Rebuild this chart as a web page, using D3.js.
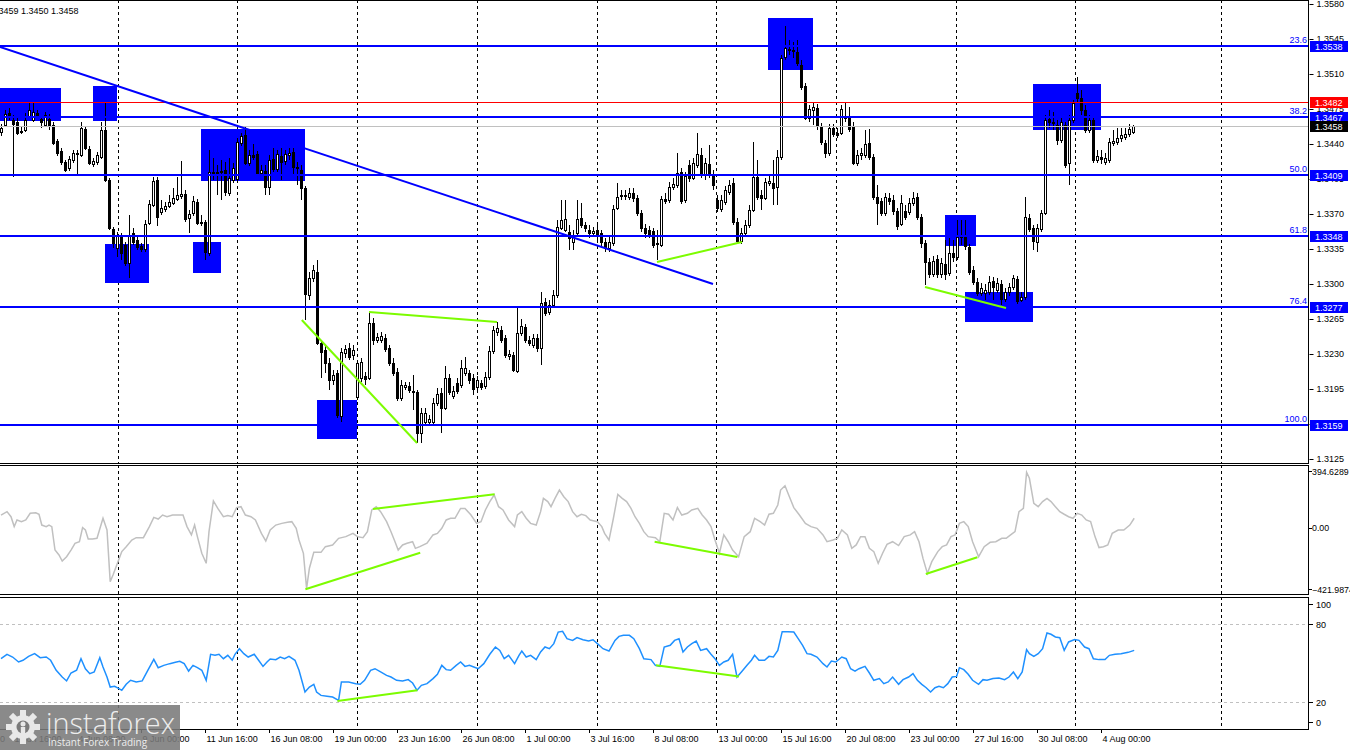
<!DOCTYPE html>
<html><head><meta charset="utf-8">
<script src="https://cdn.jsdelivr.net/npm/d3@7"></script>
<style>
html,body{margin:0;padding:0;background:#fff;overflow:hidden}
svg{display:block;font-family:"Liberation Sans",Arial,sans-serif}
</style></head><body>
<svg id="c" width="1350" height="750"></svg>
<script>
// ---------------- DATA ----------------
const open=[1.3452,1.3459,1.3471,1.3464,1.3462,1.3453,1.3454,1.3468,1.3464,1.3471,
1.3465,1.3459,1.3465,1.3459,1.3443,1.3433,1.3422,1.3416,1.3424,1.3430,
1.3429,1.3455,1.3435,1.3420,1.3422,1.3427,1.3454,1.3404,1.3355,1.3336,
1.3347,1.3339,1.3321,1.3351,1.3344,1.3338,1.3335,1.3361,1.3379,1.3404,
1.3372,1.3375,1.3378,1.3381,1.3385,1.3388,1.3390,1.3366,1.3371,1.3382,
1.3362,1.3362,1.3331,1.3412,1.3411,1.3412,1.3414,1.3391,1.3404,1.3405,
1.3441,1.3449,1.3421,1.3429,1.3430,1.3411,1.3413,1.3397,1.3425,1.3415,
1.3428,1.3423,1.3429,1.3432,1.3417,1.3414,1.3396,1.3289,1.3306,1.3312,
1.3241,1.3234,1.3221,1.3204,1.3211,1.3168,1.3231,1.3236,1.3229,1.3187,
1.3206,1.3208,1.3206,1.3261,1.3244,1.3244,1.3246,1.3236,1.3221,1.3212,
1.3186,1.3197,1.3198,1.3193,1.3192,1.3151,1.3162,1.3162,1.3162,1.3181,
1.3191,1.3176,1.3206,1.3188,1.3201,1.3199,1.3211,1.3211,1.3206,1.3197,
1.3201,1.3198,1.3207,1.3233,1.3252,1.3254,1.3246,1.3228,1.3229,1.3213,
1.3251,1.3257,1.3244,1.3239,1.3246,1.3236,1.3282,1.3272,1.3279,1.3289,
1.3356,1.3354,1.3352,1.3342,1.3351,1.3366,1.3359,1.3354,1.3351,1.3354,
1.3351,1.3342,1.3336,1.3341,1.3376,1.3388,1.3389,1.3387,1.3391,1.3386,
1.3371,1.3356,1.3354,1.3353,1.3341,1.3339,1.3385,1.3384,1.3397,1.3399,
1.3412,1.3384,1.3419,1.3406,1.3419,1.3429,1.3409,1.3420,1.3409,1.3384,
1.3375,1.3382,1.3392,1.3401,1.3362,1.3343,1.3351,1.3359,1.3374,1.3407,
1.3389,1.3386,1.3401,1.3401,1.3397,1.3427,1.3527,1.3535,1.3534,1.3532,
1.3519,1.3498,1.3466,1.3474,1.3476,1.3458,1.3441,1.3431,1.3456,1.3451,
1.3451,1.3466,1.3468,1.3458,1.3421,1.3429,1.3429,1.3441,1.3427,1.3387,
1.3383,1.3371,1.3386,1.3384,1.3373,1.3360,1.3373,1.3372,1.3381,1.3387,
1.3367,1.3341,1.3322,1.3310,1.3325,1.3310,1.3320,1.3311,1.3331,1.3327,
1.3347,1.3349,1.3337,1.3314,1.3302,1.3291,1.3291,1.3292,1.3303,1.3294,
1.3300,1.3285,1.3292,1.3297,1.3305,1.3284,1.3287,1.3366,1.3356,1.3342,
1.3355,1.3371,1.3465,1.3462,1.3459,1.3444,1.3459,1.3421,1.3464,1.3491,
1.3486,1.3474,1.3454,1.3464,1.3424,1.3427,1.3422,1.3424,1.3441,1.3442,
1.3446,1.3447,1.3450,1.3452];
const high=[1.3460,1.3474,1.3476,1.3469,1.3466,1.3457,1.3471,1.3481,1.3481,1.3474,
1.3468,1.3472,1.3470,1.3462,1.3445,1.3436,1.3424,1.3428,1.3434,1.3434,
1.3462,1.3457,1.3438,1.3426,1.3432,1.3462,1.3482,1.3406,1.3357,1.3352,
1.3351,1.3342,1.3369,1.3356,1.3347,1.3341,1.3364,1.3384,1.3407,1.3407,
1.3384,1.3382,1.3389,1.3396,1.3407,1.3423,1.3394,1.3374,1.3388,1.3385,
1.3369,1.3364,1.3434,1.3426,1.3419,1.3424,1.3422,1.3426,1.3421,1.3446,
1.3451,1.3458,1.3434,1.3440,1.3433,1.3419,1.3419,1.3429,1.3436,1.3434,
1.3436,1.3434,1.3436,1.3436,1.3422,1.3419,1.3398,1.3312,1.3319,1.3324,
1.3244,1.3239,1.3226,1.3214,1.3214,1.3236,1.3239,1.3241,1.3239,1.3224,
1.3226,1.3212,1.3271,1.3266,1.3251,1.3252,1.3250,1.3239,1.3226,1.3216,
1.3204,1.3202,1.3202,1.3209,1.3194,1.3176,1.3176,1.3169,1.3186,1.3196,
1.3196,1.3218,1.3210,1.3198,1.3206,1.3224,1.3227,1.3214,1.3210,1.3208,
1.3204,1.3212,1.3238,1.3258,1.3262,1.3258,1.3249,1.3234,1.3232,1.3276,
1.3265,1.3260,1.3248,1.3250,1.3250,1.3292,1.3286,1.3284,1.3294,1.3364,
1.3384,1.3384,1.3359,1.3354,1.3384,1.3381,1.3362,1.3359,1.3357,1.3359,
1.3354,1.3346,1.3348,1.3379,1.3401,1.3394,1.3394,1.3396,1.3396,1.3389,
1.3374,1.3360,1.3358,1.3356,1.3354,1.3388,1.3391,1.3402,1.3406,1.3431,
1.3416,1.3412,1.3424,1.3426,1.3451,1.3436,1.3426,1.3439,1.3414,1.3389,
1.3389,1.3398,1.3404,1.3406,1.3366,1.3356,1.3364,1.3379,1.3442,1.3424,
1.3394,1.3406,1.3408,1.3424,1.3434,1.3529,1.3558,1.3544,1.3542,1.3544,
1.3524,1.3501,1.3479,1.3481,1.3480,1.3461,1.3444,1.3460,1.3460,1.3456,
1.3479,1.3481,1.3477,1.3462,1.3434,1.3436,1.3454,1.3455,1.3430,1.3399,
1.3386,1.3391,1.3391,1.3389,1.3376,1.3389,1.3379,1.3386,1.3392,1.3391,
1.3370,1.3344,1.3326,1.3328,1.3329,1.3326,1.3344,1.3346,1.3344,1.3364,
1.3364,1.3364,1.3340,1.3318,1.3306,1.3301,1.3300,1.3308,1.3307,1.3306,
1.3304,1.3296,1.3301,1.3309,1.3308,1.3292,1.3387,1.3370,1.3359,1.3360,
1.3374,1.3469,1.3474,1.3472,1.3464,1.3466,1.3462,1.3469,1.3484,1.3507,
1.3494,1.3479,1.3469,1.3468,1.3434,1.3434,1.3431,1.3446,1.3454,1.3456,
1.3456,1.3456,1.3460,1.3459];
const low=[1.3448,1.3457,1.3464,1.3407,1.3449,1.3450,1.3452,1.3466,1.3462,1.3466,
1.3456,1.3457,1.3454,1.3439,1.3428,1.3419,1.3412,1.3413,1.3421,1.3410,
1.3427,1.3434,1.3419,1.3417,1.3419,1.3425,1.3402,1.3354,1.3336,1.3327,
1.3324,1.3318,1.3306,1.3339,1.3334,1.3332,1.3332,1.3359,1.3377,1.3358,
1.3369,1.3372,1.3376,1.3379,1.3383,1.3385,1.3362,1.3351,1.3368,1.3359,
1.3358,1.3324,1.3328,1.3404,1.3389,1.3384,1.3388,1.3388,1.3401,1.3402,
1.3438,1.3419,1.3418,1.3424,1.3409,1.3409,1.3389,1.3389,1.3412,1.3412,
1.3404,1.3419,1.3424,1.3409,1.3399,1.3384,1.3264,1.3284,1.3302,1.3239,
1.3206,1.3211,1.3194,1.3199,1.3166,1.3162,1.3226,1.3224,1.3224,1.3184,
1.3202,1.3199,1.3204,1.3239,1.3241,1.3241,1.3232,1.3218,1.3208,1.3183,
1.3183,1.3194,1.3191,1.3174,1.3141,1.3141,1.3159,1.3159,1.3159,1.3178,
1.3151,1.3174,1.3189,1.3185,1.3190,1.3196,1.3208,1.3200,1.3189,1.3194,
1.3194,1.3195,1.3204,1.3230,1.3248,1.3241,1.3226,1.3224,1.3212,1.3211,
1.3248,1.3241,1.3238,1.3236,1.3232,1.3219,1.3268,1.3269,1.3276,1.3286,
1.3354,1.3352,1.3334,1.3334,1.3348,1.3356,1.3352,1.3346,1.3348,1.3344,
1.3338,1.3332,1.3332,1.3338,1.3374,1.3384,1.3384,1.3384,1.3382,1.3368,
1.3352,1.3346,1.3346,1.3336,1.3324,1.3337,1.3380,1.3381,1.3394,1.3396,
1.3380,1.3381,1.3402,1.3404,1.3416,1.3406,1.3404,1.3406,1.3394,1.3372,
1.3372,1.3379,1.3389,1.3359,1.3340,1.3340,1.3348,1.3356,1.3372,1.3384,
1.3374,1.3384,1.3398,1.3379,1.3379,1.3424,1.3524,1.3529,1.3526,1.3518,
1.3494,1.3464,1.3462,1.3459,1.3454,1.3439,1.3426,1.3428,1.3447,1.3446,
1.3449,1.3462,1.3452,1.3419,1.3418,1.3424,1.3426,1.3424,1.3384,1.3359,
1.3368,1.3368,1.3379,1.3369,1.3354,1.3358,1.3364,1.3369,1.3378,1.3364,
1.3336,1.3299,1.3306,1.3307,1.3306,1.3306,1.3304,1.3308,1.3322,1.3324,
1.3339,1.3334,1.3309,1.3299,1.3288,1.3288,1.3284,1.3289,1.3284,1.3291,
1.3279,1.3282,1.3288,1.3294,1.3280,1.3282,1.3284,1.3352,1.3334,1.3332,
1.3352,1.3369,1.3456,1.3454,1.3439,1.3441,1.3416,1.3399,1.3461,1.3482,
1.3469,1.3451,1.3451,1.3421,1.3421,1.3420,1.3419,1.3421,1.3438,1.3439,
1.3442,1.3444,1.3447,1.3450];
const close=[1.3456,1.3470,1.3468,1.3460,1.3451,1.3452,1.3464,1.3474,1.3472,1.3469,
1.3462,1.3469,1.3459,1.3441,1.3431,1.3422,1.3414,1.3425,1.3431,1.3431,
1.3456,1.3436,1.3421,1.3423,1.3429,1.3454,1.3404,1.3356,1.3341,1.3349,
1.3331,1.3321,1.3349,1.3342,1.3337,1.3335,1.3360,1.3380,1.3403,1.3367,
1.3376,1.3378,1.3382,1.3386,1.3389,1.3390,1.3365,1.3370,1.3383,1.3361,
1.3361,1.3332,1.3412,1.3411,1.3412,1.3413,1.3392,1.3406,1.3416,1.3442,
1.3448,1.3421,1.3429,1.3427,1.3411,1.3414,1.3397,1.3424,1.3415,1.3430,
1.3422,1.3430,1.3431,1.3417,1.3416,1.3396,1.3290,1.3306,1.3314,1.3241,
1.3232,1.3221,1.3204,1.3209,1.3169,1.3232,1.3235,1.3227,1.3234,1.3221,
1.3222,1.3205,1.3261,1.3244,1.3247,1.3248,1.3235,1.3221,1.3211,1.3186,
1.3199,1.3199,1.3194,1.3192,1.3151,1.3171,1.3171,1.3165,1.3181,1.3190,
1.3176,1.3206,1.3192,1.3193,1.3193,1.3216,1.3216,1.3204,1.3195,1.3204,
1.3197,1.3207,1.3233,1.3254,1.3256,1.3244,1.3229,1.3230,1.3214,1.3251,
1.3258,1.3244,1.3241,1.3246,1.3236,1.3281,1.3271,1.3279,1.3289,1.3357,
1.3364,1.3365,1.3346,1.3349,1.3365,1.3359,1.3356,1.3351,1.3353,1.3349,
1.3342,1.3336,1.3342,1.3375,1.3387,1.3389,1.3388,1.3391,1.3386,1.3371,
1.3356,1.3351,1.3350,1.3339,1.3340,1.3385,1.3383,1.3397,1.3400,1.3411,
1.3383,1.3408,1.3406,1.3421,1.3430,1.3409,1.3421,1.3409,1.3399,1.3376,
1.3384,1.3394,1.3399,1.3362,1.3343,1.3351,1.3359,1.3374,1.3407,1.3387,
1.3386,1.3402,1.3403,1.3396,1.3427,1.3526,1.3536,1.3534,1.3533,1.3521,
1.3497,1.3466,1.3475,1.3477,1.3458,1.3442,1.3431,1.3456,1.3450,1.3449,
1.3475,1.3468,1.3455,1.3421,1.3429,1.3431,1.3440,1.3427,1.3387,1.3381,
1.3371,1.3387,1.3383,1.3373,1.3358,1.3381,1.3367,1.3381,1.3386,1.3367,
1.3341,1.3322,1.3310,1.3323,1.3310,1.3321,1.3310,1.3331,1.3327,1.3347,
1.3348,1.3338,1.3312,1.3302,1.3291,1.3296,1.3294,1.3302,1.3297,1.3301,
1.3285,1.3292,1.3297,1.3306,1.3283,1.3287,1.3367,1.3355,1.3343,1.3356,
1.3371,1.3464,1.3462,1.3461,1.3444,1.3462,1.3419,1.3464,1.3481,1.3486,
1.3474,1.3454,1.3464,1.3424,1.3428,1.3425,1.3426,1.3442,1.3443,1.3446,
1.3449,1.3450,1.3455,1.3458];

// CCI (grey) : bar position and value
const cciBar=[0,1.5,2.5,3.3,4,5.1,6.2,7.3,8.7,9.5,10.2,11.3,12,12.7,13.5,14.5,15.3,16.4,17.5,18.5,
19.6,20.4,21.1,21.8,22.9,24,25.5,26.5,27.3,28,29.1,30.2,31.3,32.7,33.8,35.6,37.1,38.2,39.3,40.4,
41.5,42.9,44.4,45.5,46.5,47.6,48.4,49.1,50.2,51.3,52,53.1,54.2,55.6,56.7,57.8,58.9,60,61.1,62.5,
63.6,65.1,66.2,67.3,68.7,70.2,71.6,72.7,73.8,74.5,75.6,76.4,77.1,78.2,80,81.1,82.9,84.4,86.2,88,
89.1,90.5,91.6,92.7,93.8,94.9,96.4,97.5,98.5,99.3,100.4,101.5,102.9,103.6,104.7,106.5,108,109.1,110.2,111.3,
112.4,113.5,114.9,116,117.5,118.9,120,121.1,122.2,123.3,124.4,125.5,126.9,128.4,129.1,130.2,131.3,132.4,133.8,134.9,
135.6,136.7,137.5,138.5,139.6,140.7,141.8,142.9,144,145.1,146.2,147.3,149.1,150.2,150.9,152,153.1,154.2,155.3,156.4,
157.5,158.5,159.6,160.7,161.8,163.6,164.7,165.8,166.9,168,169.1,170.2,171.6,172.7,174.2,175.3,176.4,177.5,178.5,179.6,
180.7,181.8,182.9,184.4,185.1,185.8,187.3,188.4,189.8,190.9,192,193.1,194.2,194.9,196,197.1,198.2,199.6,201.1,202.5,
204,205.5,206.5,208,209.1,210.2,211.6,212.7,213.8,214.9,216,217.1,218.2,219.3,220.4,221.5,222.9,224.4,225.8,227.3,
228.4,229.5,230.5,231.6,232.7,234.2,235.3,236.4,237.5,238.5,239.6,240.7,241.8,242.9,244.4,245.8,247.3,248.7,250.2,251.3,
252.4,253.5,254.5,255.6,256.4,257.1,258.2,259.3,260.4,261.5,262.5,263.6,264.7,265.8,266.9,268,269.1,270.2,271.3,272.4,
273.5,274.5,275.6,276.7,277.8,279.3,280.7,282.2,283.3];
const cciVal=[84,106,73,9,52,41,52,95,99,89,19,9,19,9,-143,-175,-214,-186,-143,-99,
-89,2,-13,-71,-71,-67,63,-13,-348,-305,-229,-153,-121,-78,-63,-63,9,69,58,84,
73,84,84,84,9,-45,19,-56,-164,-229,-24,175,127,73,80,73,132,138,84,73,
52,-35,-84,-13,19,30,37,41,-2,-78,-164,-391,-261,-158,-158,-121,-110,-67,-56,-35,
-56,-63,-24,117,138,106,41,-24,-89,-143,-110,-99,-89,-132,-121,-99,-45,-35,-2,52,
63,63,127,127,84,30,41,117,171,214,138,117,52,9,84,106,63,30,19,106,
192,171,138,192,246,203,171,106,73,89,80,52,41,9,-35,-78,63,218,192,171,
127,73,30,-24,-56,-63,-89,95,89,52,132,84,95,117,127,84,52,9,-78,-164,
-45,-89,-143,-186,-121,-56,-24,63,41,19,89,95,149,246,274,203,132,84,30,9,
-2,-45,-89,-78,-67,-13,-45,-132,-110,-56,-56,-132,-153,-229,-164,-106,-89,-114,-56,-45,
-24,-89,-197,-294,-218,-153,-121,-110,-56,-45,30,41,9,-89,-186,-121,-93,-89,-67,-67,
-45,-24,106,127,361,322,160,138,171,192,171,138,106,89,73,63,95,84,52,41,
-56,-127,-121,-110,-35,-13,-13,19,63];

// RSI (blue)
const rsiBar=[0,1.5,2.9,4.4,5.5,6.9,8.4,9.8,11.3,12.4,13.8,15.3,16.4,17.5,18.9,20,21.1,22.2,23.3,24.7,
25.5,26.5,27.3,28.4,29.5,30.2,31.3,32.4,33.8,35.3,36.7,38.2,39.3,40.7,42.2,43.6,44.7,45.8,46.9,48,
49.1,50.2,51.3,52.4,53.5,54.5,55.6,56.7,57.8,58.5,59.6,60.7,61.8,63.3,64.4,65.5,66.5,67.3,68.7,69.8,
70.9,72,73.5,74.5,76,77.1,78.2,78.9,80,81.5,82.9,84.4,85.1,86.9,88.7,89.8,90.9,92.4,93.5,94.9,
96.4,97.5,98.9,100.4,101.8,102.9,104,105.1,106.5,108,109.1,110.2,111.3,112.4,113.8,114.9,116,117.1,118.2,119.3,
120.7,122.2,123.6,124.7,125.8,126.9,128.4,129.5,130.2,131.3,132.4,133.8,134.9,136,137.1,138.2,139.3,140.4,141.5,142.9,
144,145.5,146.9,148,149.1,150.5,152,153.5,154.5,155.6,157.1,158.2,159.6,160.7,162.5,163.6,164.7,165.8,167.3,168.4,
169.5,170.5,171.6,172.7,173.8,174.9,176.4,177.5,178.5,179.6,180.7,181.8,182.9,184,185.1,186.5,187.6,188.4,189.5,190.9,
192,193.1,194.2,195.3,196.7,198.2,199.3,200.4,201.5,202.5,204,205.5,206.5,207.6,208.7,210.2,211.3,212.4,213.5,214.5,
216,217.1,218.2,219.6,220.7,221.8,222.9,224.4,225.5,226.9,228,229.1,230.2,231.3,232.4,233.5,234.5,235.6,236.7,237.8,
238.9,239.6,240.7,241.8,242.9,244.4,245.5,246.5,248,249.5,250.9,252,253.1,254.2,255.3,256.4,257.1,258.2,259.3,260.4,
261.5,262.5,263.6,264.7,265.8,266.9,268.4,269.5,270.9,272,273.1,274.5,276,277.1,278.5,280,281.8,283.3];
const rsiVal=[53.3,56.7,54.6,50.8,52.1,55.1,57.2,54.1,54.6,52.1,44.4,39.2,36.2,42.3,44.4,53.3,45.6,41.8,43.1,54.1,
46.9,39.2,31.5,32.1,30.3,29.0,33.6,36.7,35.4,36.2,44.4,52.8,46.4,48.2,49.5,50.5,51.3,49.5,43.8,48.2,
46.4,44.4,36.7,56.7,55.9,56.7,53.3,55.9,52.1,56.7,61.0,57.2,54.6,56.7,52.1,47.4,50.8,53.1,52.6,54.6,
53.3,55.1,52.1,44.4,27.7,31.5,33.6,27.7,25.1,24.4,23.8,21.3,35.4,35.4,34.1,33.6,36.7,44.4,45.6,43.1,
40.5,39.2,36.7,36.2,37.2,34.6,29.0,32.8,34.1,38.0,41.3,48.2,44.9,44.4,48.2,50.8,47.4,48.2,46.9,45.6,
49.5,56.7,62.3,59.7,53.3,55.9,49.5,55.9,59.2,54.6,55.9,52.6,58.5,62.3,61.0,64.9,73.8,74.4,68.7,67.4,
69.5,67.9,66.9,67.9,64.9,61.0,59.2,67.4,70.5,71.3,71.3,68.7,61.0,53.3,52.6,48.2,47.4,62.3,63.6,67.4,
68.7,58.5,62.3,64.9,66.9,59.7,61.0,56.7,53.3,48.2,50.8,52.1,56.7,39.2,43.1,48.2,52.1,55.9,52.1,52.1,
55.1,54.6,59.7,74.1,74.1,73.8,68.7,63.6,57.2,56.7,54.6,49.5,46.9,51.5,50.8,54.6,53.3,45.6,43.8,45.6,
47.4,42.3,36.7,38.0,34.1,35.4,39.2,33.6,37.2,39.2,41.8,36.7,33.6,31.0,27.7,31.0,32.1,31.0,34.1,39.2,
39.7,46.4,44.9,41.3,36.7,33.6,37.2,36.7,38.0,38.5,37.2,39.2,43.1,38.0,43.1,60.3,57.2,55.1,57.2,61.0,
73.1,72.1,70.0,69.5,59.7,66.2,68.0,67.4,62.3,61.0,53.3,52.6,52.6,55.9,56.7,57.2,58.2,59.7];

// Fibonacci levels
const fibValues=[1.3538,1.3467,1.3409,1.3348,1.3277,1.3159];
const fibLabels=["23.6","38.2","50.0","61.8","76.4","100.0"];
const askPrice=1.3482, bidPrice=1.3458;
const headerText="1.3459 1.3450 1.3458";

// Right price axis ticks
const priceTicks=[1.3580,1.3545,1.3510,1.3475,1.3440,1.3405,1.3370,1.3335,1.3300,1.3265,1.3230,1.3195,1.3160,1.3125];
// Price tags on the axis
const tagValues=[1.3538,1.3482,1.3467,1.3458,1.3409,1.3348,1.3277,1.3159];
const tagKinds=["level","ask","level","bid","level","level","level","level"];

// Time axis
const timeLabels=["28 May 00:00","1 Jun 16:00","4 Jun 08:00","9 Jun 00:00","11 Jun 16:00","16 Jun 08:00","19 Jun 00:00","23 Jun 16:00","26 Jun 08:00","1 Jul 00:00","3 Jul 16:00","8 Jul 08:00","13 Jul 00:00","15 Jul 16:00","20 Jul 08:00","23 Jul 00:00","27 Jul 16:00","30 Jul 08:00","4 Aug 00:00"];
const timeBars=[-13,3,19,35,51,67,83,99,115,131,147,163,179,195,211,227,243,259,275];
const gridBars=[29.25,59,89,119,149,178.75,208.75,238.75,268.5,305];

// Rectangles (bar from, bar to, price top, price bottom)
const zoneBar0=[-1,23,50,26,48,79,191.75,258,236,241];
const zoneBar1=[15,29,76,37,55,89,203,275,243.75,258];
const zoneTop=[1.3496,1.3498,1.3455,1.3340,1.3342,1.3184,1.3566,1.3500,1.3369,1.3292];
const zoneBot=[1.3463,1.3463,1.3403,1.3301,1.3311,1.3145,1.3514,1.3454,1.3338,1.3262];

// Trend line (bar, price)
const trendBar=[-0.25,178], trendPrice=[1.3537,1.3300];

// Green divergence lines
const gMainBar0=[75.2,92,164,231], gMainBar1=[104,124,185.25,251.25];
const gMainP0=[1.3264,1.3272,1.3322,1.3297], gMainP1=[1.3141,1.3262,1.3342,1.3276];
const gCciBar0=[93,76.1,163.4,231.2], gCciBar1=[123.4,104.8,184.1,244.1];
const gCciV0=[123,-397,-89,-298], gCciV1=[218,-160,-188,-190];
const gRsiBar0=[84.1,163.75], gRsiBar1=[104.1,184.5];
const gRsiV0=[20.8,48.2], gRsiV1=[29.0,39.7];

// CCI/RSI axis
const cciMax=394.6289, cciMin=-421.9874;
const rsiTicks=[100,80,20,0];

// ---------------- DRAW ----------------
const svg=d3.select("#c");
const W=1350, AX=1309;
const P={mainTop:0, mainBot:463, cciTop:465, cciBot:594, rsiTop:597, rsiBot:729};

const x=d3.scaleLinear().domain([0,327]).range([1,AX]);
const y=d3.scaleLinear().domain([1.3584,1.3121]).range([0,463]);
const yC=d3.scaleLinear().domain([cciMax,cciMin]).range([467.1,593.1]);
const yR=d3.scaleLinear().domain([100,0]).range([598,728]);

const defs=svg.append("defs");
defs.append("clipPath").attr("id","cm").append("rect").attr("x",0).attr("y",P.mainTop).attr("width",AX).attr("height",P.mainBot-P.mainTop);
defs.append("clipPath").attr("id","cc").append("rect").attr("x",0).attr("y",P.cciTop).attr("width",AX).attr("height",P.cciBot-P.cciTop);
defs.append("clipPath").attr("id","cr").append("rect").attr("x",0).attr("y",P.rsiTop).attr("width",AX).attr("height",P.rsiBot-P.rsiTop);

svg.append("rect").attr("width",W).attr("height",750).attr("fill","#fff");

// grid verticals
const grid=svg.append("g").attr("stroke","#000").attr("stroke-width",1).attr("stroke-dasharray","3,3").attr("shape-rendering","crispEdges");
[[P.mainTop,P.mainBot],[P.cciTop,P.cciBot],[P.rsiTop,P.rsiBot]].forEach(([a,b])=>{
  grid.selectAll(null).data(gridBars).enter().append("line")
    .attr("x1",d=>Math.round(x(d))+0.5).attr("x2",d=>Math.round(x(d))+0.5).attr("y1",a).attr("y2",b);
});
// RSI dotted levels
svg.append("g").selectAll("line").data([80,20]).enter().append("line")
  .attr("x1",0).attr("x2",AX).attr("y1",d=>Math.round(yR(d))+0.5).attr("y2",d=>Math.round(yR(d))+0.5)
  .attr("stroke","#c0c0c0").attr("stroke-dasharray","3,3").attr("shape-rendering","crispEdges");

// main panel
const gm=svg.append("g").attr("clip-path","url(#cm)");
gm.selectAll("rect.z").data(d3.range(zoneBar0.length)).enter().append("rect").attr("class","z")
  .attr("x",i=>x(zoneBar0[i])).attr("width",i=>x(zoneBar1[i])-x(zoneBar0[i]))
  .attr("y",i=>y(zoneTop[i])).attr("height",i=>y(zoneBot[i])-y(zoneTop[i]))
  .attr("fill","#0000ff");

// candles
const idx=d3.range(open.length);
const cg=gm.append("g").attr("shape-rendering","crispEdges");
cg.selectAll("line").data(idx).enter().append("line")
  .attr("x1",i=>Math.round(x(i))+0.5).attr("x2",i=>Math.round(x(i))+0.5)
  .attr("y1",i=>y(high[i])).attr("y2",i=>y(low[i])).attr("stroke","#000");
cg.selectAll("rect").data(idx).enter().append("rect")
  .attr("x",i=>Math.round(x(i))-0.5).attr("width",2)
  .attr("y",i=>Math.round(y(Math.max(open[i],close[i])))+0.5)
  .attr("height",i=>Math.max(1,Math.round(Math.abs(y(open[i])-y(close[i])))))
  .attr("fill",i=>close[i]>=open[i]?"#fff":"#000").attr("stroke","#000");

// ask / bid lines
gm.append("line").attr("x1",0).attr("x2",AX).attr("y1",Math.round(y(askPrice))+0.5).attr("y2",Math.round(y(askPrice))+0.5)
  .attr("stroke","#ff0000").attr("shape-rendering","crispEdges");
gm.append("line").attr("x1",0).attr("x2",AX).attr("y1",Math.round(y(bidPrice))+0.5).attr("y2",Math.round(y(bidPrice))+0.5)
  .attr("stroke","#c0c0c0").attr("shape-rendering","crispEdges");
// fib lines
gm.selectAll("line.f").data(fibValues).enter().append("line").attr("class","f")
  .attr("x1",0).attr("x2",AX).attr("y1",d=>Math.round(y(d))).attr("y2",d=>Math.round(y(d)))
  .attr("stroke","#0000ff").attr("stroke-width",2).attr("shape-rendering","crispEdges");
// trend line
gm.append("line").attr("x1",x(trendBar[0])).attr("x2",x(trendBar[1])).attr("y1",y(trendPrice[0])).attr("y2",y(trendPrice[1]))
  .attr("stroke","#0000ff").attr("stroke-width",2);
// green lines main
gm.selectAll("line.g").data(d3.range(gMainBar0.length)).enter().append("line").attr("class","g")
  .attr("x1",i=>x(gMainBar0[i])).attr("x2",i=>x(gMainBar1[i])).attr("y1",i=>y(gMainP0[i])).attr("y2",i=>y(gMainP1[i]))
  .attr("stroke","#7cfc00").attr("stroke-width",2);

// CCI
const gc=svg.append("g").attr("clip-path","url(#cc)");
gc.append("path").datum(d3.range(cciBar.length))
  .attr("d",d3.line().x(i=>x(cciBar[i])).y(i=>yC(cciVal[i])))
  .attr("fill","none").attr("stroke","#c0c0c0").attr("stroke-width",1.5);
gc.selectAll("line.g").data(d3.range(gCciBar0.length)).enter().append("line").attr("class","g")
  .attr("x1",i=>x(gCciBar0[i])).attr("x2",i=>x(gCciBar1[i])).attr("y1",i=>yC(gCciV0[i])).attr("y2",i=>yC(gCciV1[i]))
  .attr("stroke","#7cfc00").attr("stroke-width",2);

// RSI
const gr=svg.append("g").attr("clip-path","url(#cr)");
gr.append("path").datum(d3.range(rsiBar.length))
  .attr("d",d3.line().x(i=>x(rsiBar[i])).y(i=>yR(rsiVal[i])))
  .attr("fill","none").attr("stroke","#1e90ff").attr("stroke-width",1.5);
gr.selectAll("line.g").data(d3.range(gRsiBar0.length)).enter().append("line").attr("class","g")
  .attr("x1",i=>x(gRsiBar0[i])).attr("x2",i=>x(gRsiBar1[i])).attr("y1",i=>yR(gRsiV0[i])).attr("y2",i=>yR(gRsiV1[i]))
  .attr("stroke","#7cfc00").attr("stroke-width",2);

// panel borders
const bg=svg.append("g").attr("fill","none").attr("stroke","#000").attr("shape-rendering","crispEdges");
[[P.mainTop,P.mainBot],[P.cciTop,P.cciBot],[P.rsiTop,P.rsiBot]].forEach(([a,b])=>{
  bg.append("rect").attr("x",-1.5).attr("y",a+0.5).attr("width",AX+1).attr("height",b-a);
});

// price axis
const FS="9px";
const axG=svg.append("g").attr("transform",`translate(${AX+0.5},0)`)
  .call(d3.axisRight(y).tickValues(priceTicks).tickFormat(d3.format(".4f")).tickSize(4).tickPadding(3));
axG.select(".domain").remove();
axG.selectAll("text").attr("font-size",FS).attr("font-family","Liberation Sans, Arial, sans-serif").attr("fill","#000");
axG.selectAll("line").attr("stroke","#000");

// fib labels
svg.append("g").selectAll("text").data(fibValues).enter().append("text")
  .attr("x",AX-2).attr("y",d=>y(d)-3).attr("text-anchor","end")
  .attr("font-size",FS).attr("fill","#0000ff").text((d,i)=>fibLabels[i]);

// tags
const tagFill={level:"#0000ff",ask:"#ff0000",bid:"#000000"};
const tg=svg.append("g");
tagValues.forEach((v,i)=>{
  const cy=Math.round(y(v));
  tg.append("rect").attr("x",AX+1).attr("y",cy-5).attr("width",38).attr("height",11).attr("fill",tagFill[tagKinds[i]]);
  tg.append("text").attr("x",AX+6).attr("y",cy+4).attr("font-size",FS).attr("fill","#fff").text(d3.format(".4f")(v));
});

// CCI axis labels
const cciLab=[cciMax,0,cciMin];
const cciFmt=[d3.format(".4f"),d3.format(".2f"),d3.format(".4f")];
cciLab.forEach((v,i)=>{
  const cy=Math.max(P.cciTop+6,Math.min(P.cciBot-5,yC(v)));
  svg.append("line").attr("x1",AX).attr("x2",AX+3).attr("y1",Math.round(cy)+0.5).attr("y2",Math.round(cy)+0.5).attr("stroke","#000");
  svg.append("text").attr("x",AX+3).attr("y",cy+3.5).attr("font-size","8.8px").text(cciFmt[i](v));
});
// RSI axis labels
rsiTicks.forEach(v=>{
  const cy=Math.max(P.rsiTop+7,Math.min(P.rsiBot-7,yR(v)));
  svg.append("line").attr("x1",AX).attr("x2",AX+4).attr("y1",Math.round(cy)+0.5).attr("y2",Math.round(cy)+0.5).attr("stroke","#000");
  svg.append("text").attr("x",AX+7).attr("y",cy+3.5).attr("font-size",FS).text(v);
});

// time axis
const ta=svg.append("g");
timeBars.forEach((b,i)=>{
  const xx=Math.round(x(b))+0.5;
  ta.append("line").attr("x1",xx).attr("x2",xx).attr("y1",P.rsiBot).attr("y2",P.rsiBot+4).attr("stroke","#000");
  ta.append("text").attr("x",xx+1).attr("y",742).attr("font-size",FS).text(timeLabels[i]);
});

// header
svg.append("text").attr("x",-9).attr("y",14).attr("font-size",FS).text(headerText);

// logo
const lg=svg.append("g");
lg.append("rect").attr("x",0).attr("y",705).attr("width",180).attr("height",45).attr("fill","#7a7a7a").attr("opacity",0.88);
const gear=lg.append("g").attr("transform","translate(23,727)").attr("fill","#e8e8e8");
d3.range(8).forEach(k=>{
  gear.append("rect").attr("x",-3).attr("y",-17).attr("width",6).attr("height",8).attr("transform",`rotate(${k*45})`);
});
gear.append("circle").attr("r",12);
gear.append("circle").attr("r",6.5).attr("fill","#7a7a7a");
gear.append("circle").attr("cy",-3).attr("r",2.5).attr("fill","#e8e8e8");
gear.append("rect").attr("x",-2.2).attr("y",0).attr("width",4.4).attr("height",16).attr("fill","#e8e8e8");
lg.append("text").attr("x",46).attr("y",734).attr("font-family","Open Sans, sans-serif").attr("font-weight",300)
  .attr("font-size","29px").attr("fill","#ededed").attr("textLength",129).attr("lengthAdjust","spacingAndGlyphs").text("instaforex");
lg.append("text").attr("x",48).attr("y",746).attr("font-family","Open Sans, sans-serif")
  .attr("font-size","10px").attr("fill","#ededed").text("Instant Forex Trading");
</script>
</body></html>
